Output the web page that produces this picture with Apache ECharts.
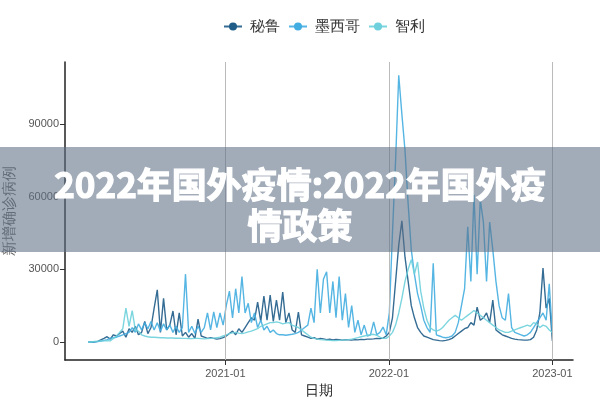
<!DOCTYPE html>
<html>
<head>
<meta charset="utf-8">
<script src="https://cdn.jsdelivr.net/npm/echarts@6/dist/echarts.min.js"></script>
<style>
  html, body { margin: 0; padding: 0; background: #fff; }
  #main { width: 600px; height: 400px; }
</style>
</head>
<body>
<div id="main"></div>
<script>
// 每周一个点，从 2020-03-01 开始
var startDay = Date.UTC(2020, 2, 1);
var weekMs = 7 * 24 * 3600 * 1000;

var seriesNames = ['秘鲁', '墨西哥', '智利'];
var colors = ['#1f5c88', '#42ade0', '#6dd0dc'];

// 秘鲁
var peru = [
  0, 0, 50, 300, 900, 1500, 2200, 1200, 3000, 2500,
  3500, 4500, 2000, 5500, 4000, 6500, 3000, 4000, 8500, 3500,
  6000, 14000, 21500, 4000, 18000, 5000, 7000, 12800, 3000, 12000,
  2500, 4000, 2000, 3500, 1500, 9500, 2500, 2000, 1500, 1800,
  1500, 1200, 1400, 1800, 2500, 3500, 4500, 3000, 5500, 4000,
  6000, 8000, 10000, 9000, 16500, 8500, 19000, 9000, 19400, 8500,
  17300, 9000, 20600, 8000, 12000, 5000, 4000, 12400, 3000, 2500,
  2000, 1500, 1800, 1200, 1500, 1300, 1000, 1200, 900, 1100,
  1000, 800, 1000, 900, 800, 1000, 900, 1100, 1000, 1200,
  1200, 1300, 1500, 1400, 1600, 2500, 4000, 10000, 25000, 40000,
  50000, 35000, 25000, 15000, 10000, 6000, 4000, 2500, 2000, 1500,
  1000, 800, 600, 500, 700, 1000, 1500, 2500, 3500, 4500,
  5500, 6000, 8000, 7000, 14400, 9000, 10000, 12000, 8000, 17300,
  5000, 4000, 3000, 2500, 2000, 1500, 1200, 1000, 900, 800,
  800, 1000, 2000, 5000, 12000, 30500, 14000, 18000, 500
];

// 墨西哥
var mexico = [
  0, 0, 20, 200, 400, 700, 1000, 1500, 1800, 2000,
  2500, 3000, 3500, 4000, 6000, 4000, 7500, 5000, 8000, 5500,
  8500, 5000, 8000, 4500, 7500, 5000, 7000, 4000, 6500, 4000,
  6000, 28000, 4000, 6500, 3500, 6500, 4000, 6000, 12000, 5000,
  12400, 6000, 12000, 7000, 15000, 21000, 10000, 22000, 12000, 27000,
  12000, 16000, 8000, 12000, 6000, 9000, 5000, 6500, 4000, 5000,
  3500, 3000, 3000, 2800, 3000, 3200, 3500, 4000, 5000, 6000,
  7000, 14000, 8000, 30000, 12000, 26000, 29000, 12000, 25000, 10000,
  27000, 9000, 20000, 6000, 15000, 4000, 9000, 3000, 7000, 2500,
  3000, 8300, 3000, 4000, 6200, 3000, 12000, 45000, 75000, 110000,
  94000, 79000, 57000, 38000, 28000, 20000, 15000, 9000, 6000, 4000,
  32500, 3000, 2500, 2000, 1800, 2000, 2500, 4000, 8000, 15000,
  22000, 47500, 25000, 60700, 28000, 58600, 49500, 25000, 49500, 38000,
  25000, 15000, 10000, 9000, 20000, 6000, 4000, 3500, 3000, 2500,
  3000, 4000, 6000, 8000, 10000, 12000, 9000, 24000, 3000
];

// 智利
var chile = [
  0, 50, 300, 400, 450, 500, 600, 500, 1500, 2500,
  4000, 5500, 14000, 6500, 13000, 5000, 4500, 3000, 2500, 2200,
  2000, 2000, 1900, 1800, 1800, 1700, 1700, 1700, 1600, 1600,
  1500, 1500, 1400, 1400, 1500, 1500, 1400, 1300, 1400, 1500,
  1600, 1800, 2000, 2500, 3000, 3500, 3800, 4000, 3700, 3500,
  3800, 4200, 4500, 5000, 5500, 6500, 7000, 7500, 8000, 8000,
  8300, 8000, 7500, 7800, 8000, 7000, 6500, 6000, 5000, 4000,
  3000, 2000, 1500, 1200, 1000, 900, 800, 700, 600, 600,
  700, 800, 900, 1000, 1200, 1500, 1800, 2200, 2500, 2800,
  3000, 3200, 2800, 2000, 1500, 1500, 2500, 4000, 7000, 12000,
  18000, 25000, 30000, 34000, 28000, 33000, 21000, 14000, 9000, 6000,
  5000, 4500, 5000, 6000, 7500, 9000, 10000, 11000, 10000, 9000,
  10000, 11000, 12000, 13000, 12000, 11000, 10000, 9000, 8000, 7000,
  6000, 5000, 4500, 4000, 4000, 4500, 5000, 5500, 6000, 6500,
  7000, 6500, 8000, 7500, 6000, 7000, 6500, 5000, 4000
];

var xTicks = [Date.UTC(2021, 0, 1), Date.UTC(2022, 0, 1), Date.UTC(2023, 0, 1)];
var yTicks = [0, 30000, 60000, 90000];

var dates = [];
for (var i = 0; i < peru.length; i++) {
  dates.push(startDay + i * weekMs);
}

function pairs(values) {
  return values.map(function (v, i) { return [dates[i], v]; });
}

var allData = [peru, mexico, chile];

var myChart = echarts.init(document.getElementById('main'));
myChart.setOption({
  animation: false,
  color: colors,
  legend: {
    left: 218,
    top: 14,
    itemWidth: 18,
    itemHeight: 10,
    itemGap: 8,
    textStyle: { fontSize: 15, color: '#333', padding: [0, 0, 0, 3] },
    data: seriesNames
  },
  grid: { left: 65, right: 27, top: 62, bottom: 40, containLabel: false, outerBoundsMode: 'none' },
  xAxis: {
    type: 'value',
    min: Date.UTC(2020, 0, 9),
    max: Date.UTC(2023, 1, 16),
    name: '日期',
    nameLocation: 'middle',
    nameGap: 22,
    nameTextStyle: { fontSize: 14, color: '#222' },
    axisLine: { onZero: false, lineStyle: { color: '#222', width: 1.5 } },
    axisTick: { show: true, customValues: xTicks, length: 5, lineStyle: { color: '#333' } },
    axisLabel: {
      customValues: xTicks,
      color: '#555',
      fontSize: 11,
      margin: 8,
      formatter: function (v) {
        var d = new Date(v);
        var m = d.getUTCMonth() + 1;
        return d.getUTCFullYear() + '-' + (m < 10 ? '0' + m : m);
      }
    },
    splitLine: { show: false }
  },
  yAxis: {
    type: 'value',
    min: -7400,
    max: 115500,
    name: '新增确诊病例',
    nameLocation: 'middle',
    nameGap: 37,
    nameTextStyle: { fontSize: 15, color: '#666' },
    axisLine: { show: true, onZero: false, lineStyle: { color: '#222', width: 1.5 } },
    axisTick: { show: true, customValues: yTicks, length: 5, lineStyle: { color: '#333' } },
    axisLabel: {
      customValues: yTicks, color: '#555', fontSize: 11, margin: 6,
      formatter: function (v) { return String(v); }
    },
    splitLine: { show: false }
  },
  series: seriesNames.map(function (name, k) {
    var s = {
      name: name,
      type: 'line',
      symbol: 'circle',
      symbolSize: 6,
      showSymbol: false,
      data: pairs(allData[k]),
      lineStyle: { width: 1.4, opacity: 0.9 }
    };
    if (k === 0) {
      // 年份竖线
      s.markLine = {
        silent: true,
        symbol: 'none',
        label: { show: false },
        lineStyle: { color: '#bbb', width: 1, type: 'solid' },
        data: xTicks.map(function (t) { return { xAxis: t }; })
      };
    }
    return s;
  }),
  graphic: [
    {
      type: 'rect',
      z: 100,
      shape: { x: 0, y: 147, width: 600, height: 105 },
      style: { fill: 'rgba(95,112,135,0.58)' }
    },
    {
      type: 'text',
      z: 101,
      style: {
        text: '2022年国外疫情:2022年国外疫',
        x: 300, y: 185,
        align: 'center', verticalAlign: 'middle',
        fill: '#fff', stroke: '#fff', lineWidth: 1.2,
        font: 'bold 35px "Noto Sans CJK SC"'
      }
    },
    {
      type: 'text',
      z: 101,
      style: {
        text: '情政策',
        x: 300, y: 226,
        align: 'center', verticalAlign: 'middle',
        fill: '#fff', stroke: '#fff', lineWidth: 1.2,
        font: 'bold 35px "Noto Sans CJK SC"'
      }
    }
  ]
});
</script>
</body>
</html>
